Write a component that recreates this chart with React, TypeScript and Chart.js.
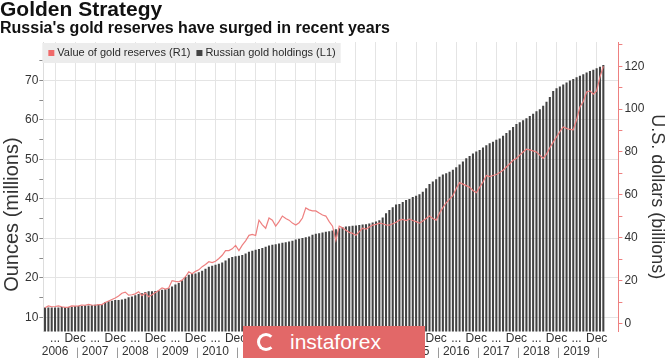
import React, { useEffect, useRef } from 'react';
import { Chart, registerables } from 'chart.js';

Chart.register(...registerables);

// ---------- data ----------
const FIRST_YEAR = 2006;
const FIRST_MONTH = 2; // March (0-based)
const PAD_MONTHS = 4;
const MONTH_ABBR = ['Jan', 'Feb', 'Mar', 'Apr', 'May', 'Jun', 'Jul', 'Aug', 'Sep', 'Oct', 'Nov', 'Dec'];

const seriesNames = ['Value of gold reserves (R1)', 'Russian gold holdings (L1)'];

// Russian gold holdings, million ounces (monthly, Mar 2006 - Feb 2020)
const holdings = [
  12.5, 12.5, 12.5, 12.5, 12.5, 12.6, 12.6, 12.6, 12.7, 12.9,
  12.9, 12.9, 13.0, 13.0, 13.1, 13.2, 13.3, 13.3, 13.9, 14.1, 14.2, 14.4,
  14.4, 14.5, 14.7, 15.1, 15.3, 15.6, 15.9, 16.1, 16.4, 16.6, 16.6, 16.7,
  16.8, 17.0, 17.1, 17.4, 17.8, 18.3, 18.7, 19.4, 20.2, 20.8, 21.0, 21.1,
  21.4, 21.8, 22.3, 22.8, 23.1, 23.3, 23.6, 23.9, 24.4, 25.0, 25.3, 25.5,
  25.6, 25.8, 26.2, 26.6, 26.9, 27.1, 27.3, 27.6, 27.9, 28.2, 28.4, 28.5,
  28.7, 28.9, 29.0, 29.2, 29.4, 29.7, 29.9, 30.1, 30.3, 30.5, 30.9, 31.2,
  31.3, 31.5, 31.7, 31.8, 32.0, 32.3, 32.6, 32.8, 33.0, 33.1, 33.2, 33.3,
  33.4, 33.5, 33.6, 33.8, 34.0, 34.3, 34.6, 35.3, 36.4, 37.2, 37.9, 38.6,
  38.7, 39.2, 39.7, 40.0, 40.5, 40.8, 41.2, 41.8, 42.7, 43.8, 44.4, 45.0,
  45.6, 46.2, 46.5, 46.9, 47.4, 48.0, 48.7, 49.5, 50.3, 50.9, 51.5, 52.0,
  52.4, 53.0, 53.6, 54.1, 54.5, 55.0, 55.3, 56.0, 56.7, 57.4, 58.2, 59.0,
  59.4, 59.9, 60.4, 61.0, 61.6, 62.2, 62.7, 63.6, 64.6, 65.8, 67.3, 68.0,
  68.5, 69.0, 69.5, 70.0, 70.4, 70.8, 71.2, 71.6, 72.0, 72.4, 72.7, 73.1,
  73.5, 73.9,
];

// Value of gold reserves, US$ billions
const reserveValue = [
  7.3, 8.2, 7.8, 7.9, 8.2, 7.8, 7.5, 7.6, 8.2, 8.1,
  8.2, 8.6, 8.5, 8.9, 8.6, 8.5, 8.8, 8.8, 9.8, 10.5, 11.2, 11.9,
  12.8, 14.1, 14.6, 13.2, 13.4, 13.8, 14.8, 13.0, 14.2, 12.5, 13.4, 14.4,
  15.4, 16.6, 16.0, 16.5, 20.0, 19.6, 19.4, 20.2, 21.8, 24.1, 23.2, 24.3,
  25.0, 26.5, 27.5, 28.8, 28.4, 29.0, 30.3, 31.8, 34.0, 34.0, 34.8, 36.4,
  34.0, 36.5, 38.5, 41.1, 41.5, 41.0, 48.2, 46.0, 44.4, 49.2, 48.2, 45.4,
  47.5, 50.1, 49.0, 48.2, 46.8, 45.9, 47.0, 49.2, 53.9, 53.0, 52.5, 52.5,
  51.5, 50.6, 50.1, 47.5, 45.4, 38.8, 45.4, 44.6, 43.5, 42.5, 42.0, 41.1,
  42.8, 44.4, 44.0, 45.0, 45.9, 46.2, 46.8, 46.5, 46.0, 45.9, 46.5, 47.2,
  48.2, 48.5, 48.0, 48.7, 48.0, 47.5, 46.8, 47.8, 49.0, 50.1, 49.0, 48.2,
  51.5, 54.0, 56.3, 58.0, 59.6, 63.0, 65.7, 65.0, 64.3, 63.5, 62.0, 61.0,
  63.5, 66.0, 69.0, 68.5, 69.0, 69.5, 70.4, 71.5, 73.0, 74.5, 76.1, 77.0,
  78.5, 80.0, 81.3, 81.0, 80.5, 80.0, 78.5, 77.0, 79.0, 82.0, 84.6, 87.0,
  89.5, 91.7, 91.0, 90.5, 90.3, 95.0, 101.0, 103.5, 108.0, 108.5, 107.0, 108.5,
  115.0, 120.0,
];

const leftTickValues = [10, 20, 30, 40, 50, 60, 70];
const rightTickValues = [0, 20, 40, 60, 80, 100, 120];
const midYearMark = '...';
const yearEndMark = 'Dec';

// month categories (incl. empty padding months at the right edge)
const categories: string[] = [];
for (let i = 0; i < holdings.length + PAD_MONTHS; i++) {
  const k = FIRST_MONTH + i;
  categories.push(`${MONTH_ABBR[k % 12]} ${FIRST_YEAR + Math.floor(k / 12)}`);
}

const FONT = '"Liberation Sans", Arial, Helvetica, sans-serif';
const TEXT = '#333333';
const GRID = '#e4e4e4';
const RED = 'rgb(238, 128, 128)';
const BAR = '#434343';

const monthOf = (i: number) => (categories[i] || '').slice(0, 3);
const yearOf = (i: number) => (categories[i] || '').slice(4);

const legendPlugin = {
  id: 'boxLegend',
  afterDatasetsDraw(chart: any) {
    const { ctx, chartArea } = chart;
    const x0 = chartArea.left - 1;
    const y0 = chartArea.top + 1;
    ctx.save();
    ctx.font = `11px ${FONT}`;
    const w1 = ctx.measureText(seriesNames[0]).width;
    const w2 = ctx.measureText(seriesNames[1]).width;
    const boxW = 6 + 6 + 3 + w1 + 6 + 6 + 3 + w2 + 5;
    ctx.fillStyle = '#ececec';
    ctx.fillRect(x0, y0, boxW, 20);
    const cy = y0 + 10;
    let x = x0 + 6;
    ctx.fillStyle = '#f06a6a';
    ctx.fillRect(x, cy - 3, 6, 6);
    x += 9;
    ctx.fillStyle = '#2a2a2a';
    ctx.textBaseline = 'middle';
    ctx.textAlign = 'left';
    ctx.fillText(seriesNames[0], x, cy);
    x += w1 + 6;
    ctx.fillStyle = BAR;
    ctx.fillRect(x, cy - 3, 6, 6);
    x += 9;
    ctx.fillStyle = '#2a2a2a';
    ctx.fillText(seriesNames[1], x, cy);
    ctx.restore();
  },
};

// year separators on the second label row, placed between Dec and Jan
const yearSeparatorPlugin = {
  id: 'yearSeparators',
  afterDraw(chart: any) {
    const { ctx } = chart;
    const xs = chart.scales.x;
    ctx.save();
    ctx.strokeStyle = '#9a9a9a';
    ctx.lineWidth = 1;
    for (let i = 1; i <= holdings.length; i++) {
      if (monthOf(i) !== 'Jan') continue;
      const px = Math.round((xs.getPixelForValue(i - 1) + xs.getPixelForValue(i)) / 2) + 0.5;
      ctx.beginPath();
      ctx.moveTo(px, xs.top + 16);
      ctx.lineTo(px, xs.top + 29);
      ctx.stroke();
    }
    ctx.restore();
  },
};

function GoldChart() {
  const ref = useRef<HTMLCanvasElement | null>(null);
  useEffect(() => {
    if (!ref.current) return;
    const chart = new Chart(ref.current, {
      type: 'bar',
      data: {
        labels: categories,
        datasets: [
          {
            type: 'line',
            label: seriesNames[0],
            data: reserveValue,
            yAxisID: 'y1',
            borderColor: RED,
            borderWidth: 1.2,
            pointRadius: 0,
            tension: 0,
            order: 0,
          } as any,
          {
            type: 'bar',
            label: seriesNames[1],
            data: holdings,
            yAxisID: 'y',
            backgroundColor: BAR,
            borderWidth: 0,
            barPercentage: 0.62,
            categoryPercentage: 1,
            order: 1,
          },
        ],
      },
      options: {
        animation: false,
        responsive: true,
        maintainAspectRatio: false,
        layout: { padding: { left: 0, right: -3, top: 0, bottom: 0 } },
        plugins: {
          legend: { display: false },
          tooltip: { enabled: false },
          title: {
            display: true,
            text: 'Golden Strategy',
            align: 'start',
            color: '#111',
            font: { family: FONT, size: 21, weight: 'bold', lineHeight: 1 },
            padding: { top: 0, bottom: 0 },
          },
          subtitle: {
            display: true,
            text: "Russia's gold reserves have surged in recent years",
            align: 'start',
            color: '#111',
            font: { family: FONT, size: 16, weight: 'bold', lineHeight: 1 },
            padding: { top: 0, bottom: 5 },
          },
        },
        scales: {
          x: {
            type: 'category',
            position: 'bottom',
            offset: true,
            grid: {
              offset: false,
              drawTicks: false,
              color: (c: any) => {
                const i = c.index;
                if (i >= holdings.length) return 'transparent';
                const m = monthOf(i);
                return m === 'Jun' || m === 'Dec' ? GRID : 'transparent';
              },
            },
            border: { display: false },
            ticks: {
              autoSkip: false,
              maxRotation: 0,
              minRotation: 0,
              padding: 0,
              color: TEXT,
              font: { family: FONT, size: 12, lineHeight: 1.1 },
              callback: (_v: any, i: number) => {
                if (i >= holdings.length) return '';
                const m = monthOf(i);
                if (m === 'Dec') return yearEndMark;
                if (m === 'Jun') return [midYearMark, yearOf(i)];
                return '';
              },
            },
          },
          y: {
            type: 'linear',
            position: 'left',
            min: 6.4,
            max: 79.74,
            grid: {
              color: (c: any) => {
                const v = c.tick && c.tick.value;
                return leftTickValues.includes(v) ? GRID : 'transparent';
              },
              tickColor: (c: any) => {
                const v = c.tick && c.tick.value;
                return v > 75 ? 'transparent' : '#8a8a8a';
              },
              tickLength: 4,
            },
            border: { display: true, color: '#dddddd' },
            ticks: {
              stepSize: 5,
              includeBounds: false,
              padding: 1,
              color: TEXT,
              font: { family: FONT, size: 12 },
              callback: (v: any) => (leftTickValues.includes(v) ? String(v) : ''),
            },
            title: {
              display: true,
              text: 'Ounces (millions)          ',
              color: TEXT,
              font: { family: FONT, size: 20 },
              padding: { top: 0, bottom: 0 },
            },
          },
          y1: {
            type: 'linear',
            position: 'right',
            min: -3.8,
            max: 131.3,
            grid: {
              drawOnChartArea: false,
              tickColor: RED,
              tickLength: 4,
            },
            border: { display: true, color: RED },
            ticks: {
              stepSize: 10,
              includeBounds: false,
              padding: 2,
              color: TEXT,
              font: { family: FONT, size: 12 },
              callback: (v: any) => (rightTickValues.includes(v) ? String(v) : ''),
            },
            title: {
              display: true,
              text: '    U.S. dollars (billions)',
              color: TEXT,
              font: { family: FONT, size: 18 },
              padding: { top: 0, bottom: 0 },
            },
          },
        },
      },
      plugins: [legendPlugin, yearSeparatorPlugin],
    } as any);
    return () => chart.destroy();
  }, []);
  return <canvas ref={ref} />;
}

function Watermark() {
  return (
    <div
      style={{
        position: 'absolute',
        left: 243,
        top: 326,
        width: 182,
        height: 32,
        background: '#e26868',
        color: '#ffffff',
        fontFamily: FONT,
        fontSize: 21,
        lineHeight: '32px',
        boxSizing: 'border-box',
        paddingLeft: 47,
      }}
    >
      <div
        style={{
          position: 'absolute',
          left: 14,
          top: 7,
          width: 18,
          height: 18,
          borderRadius: '50%',
          border: '3px solid #ffffff',
          borderRightColor: 'transparent',
          boxSizing: 'border-box',
        }}
      />
      instaforex
    </div>
  );
}

export default function App() {
  return (
    <div
      style={{
        position: 'fixed',
        left: 0,
        top: 0,
        width: 665,
        height: 358,
        background: '#ffffff',
        overflow: 'hidden',
      }}
    >
      <div style={{ position: 'absolute', left: 0, top: 0, width: 665, height: 358 }}>
        <GoldChart />
      </div>
      <Watermark />
    </div>
  );
}
